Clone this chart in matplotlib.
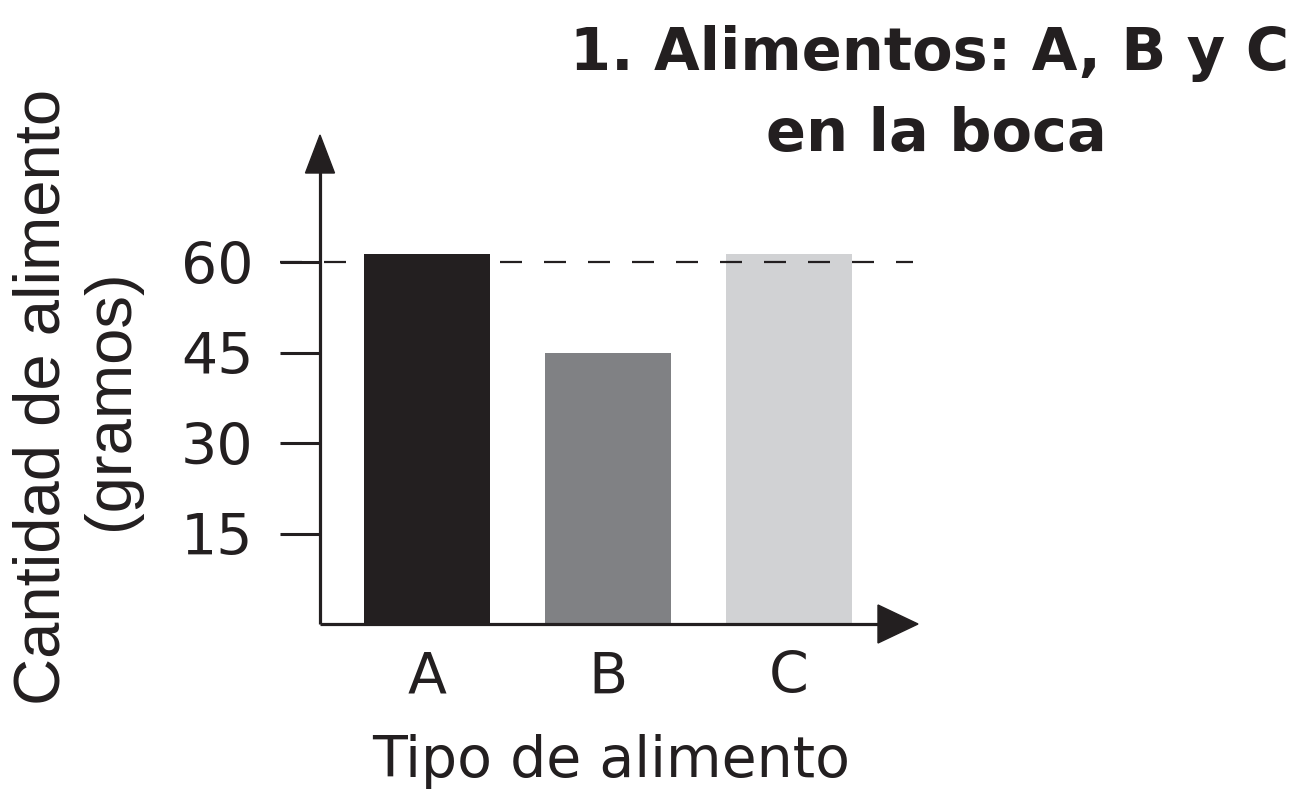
import matplotlib
matplotlib.use("Agg")
import matplotlib.pyplot as plt
from matplotlib.patches import Polygon

# ---- data ----
categories = ["A", "B", "C"]
values = [61.3, 45, 61.3]
bar_colors = ["#231f20", "#808184", "#d1d2d4"]
yticks = [15, 30, 45, 60]
ref_value = 60
title_line1 = "1. Alimentos: A, B y C"
title_line2 = "en la boca"
ylabel_line1 = "Cantidad de alimento"
ylabel_line2 = "(gramos)"
xlabel = "Tipo de alimento"

INK = "#231f20"
W, H = 1312, 790
fig = plt.figure(figsize=(W / 100, H / 100), dpi=100)
fig.patch.set_facecolor("white")

# axes box in pixels: x 320..918, y 135..624
ax = fig.add_axes([320 / W, (H - 624) / H, 598 / W, 489 / H])
ax.set_facecolor("none")

x = list(range(len(categories)))
ax.bar(x, values, width=0.70, color=bar_colors, zorder=2)
ax.set_xlim(-107 / 181, 491 / 181)
ax.set_ylim(0, 489 / 6.033)

for s in ax.spines.values():
    s.set_visible(False)

# axis lines with arrowheads (axes coords)
ax.plot([0, 0], [0, 0.93], color=INK, lw=2.3, transform=ax.transAxes, clip_on=False, zorder=3,
        solid_capstyle="butt")
ax.plot([0, 0.94], [0, 0], color=INK, lw=2.3, transform=ax.transAxes, clip_on=False, zorder=3,
        solid_capstyle="butt")
ax.add_patch(Polygon([[0, 1], [-14.5 / 598, (624 - 173) / 489], [14.5 / 598, (624 - 173) / 489]],
                     closed=True, color=INK, transform=ax.transAxes, clip_on=False, zorder=3))
ax.add_patch(Polygon([[1, 0], [(878 - 320) / 598, 19 / 489], [(878 - 320) / 598, -19 / 489]],
                     closed=True, color=INK, transform=ax.transAxes, clip_on=False, zorder=3))

# reference dashed line (drawn over the bars)
x0 = (280 - 427) / 181
x1 = (913 - 427) / 181
ax.plot([x0, x1], [ref_value, ref_value], color=INK, lw=1.6,
        linestyle=(0, (22 * 0.72 / 1.6, 22 * 0.72 / 1.6)), clip_on=False, zorder=4)

# ticks
ax.set_yticks(yticks)
ax.set_yticklabels([str(v) for v in yticks], fontfamily="DejaVu Sans", fontsize=41, color=INK)
ax.tick_params(axis="y", direction="out", length=28.8, width=2.2, color=INK, pad=19)
ax.set_xticks(x)
ax.set_xticklabels(categories, fontfamily="DejaVu Sans", fontsize=41, color=INK)
ax.tick_params(axis="x", length=0, pad=19)

# axis labels
fig.text(611 / W, 1 - 777 / H, xlabel, ha="center", va="baseline",
         fontfamily="DejaVu Sans", fontsize=41, color=INK)
fig.text(43 / W, 1 - 397 / H, ylabel_line1, ha="center", va="center", rotation=90,
         fontfamily="Liberation Sans", fontsize=47, color=INK)
fig.text(111 / W, 1 - 400 / H, ylabel_line2, ha="center", va="center", rotation=90,
         fontfamily="Liberation Sans", fontsize=47, color=INK)

# title
fig.text(930 / W, 1 - 70 / H, title_line1, ha="center", va="baseline",
         fontfamily="DejaVu Sans", fontweight="bold", fontsize=42.5, color=INK)
fig.text(936 / W, 1 - 151 / H, title_line2, ha="center", va="baseline",
         fontfamily="DejaVu Sans", fontweight="bold", fontsize=42.5, color=INK)

fig.savefig("out.png", dpi=100, facecolor="white")
